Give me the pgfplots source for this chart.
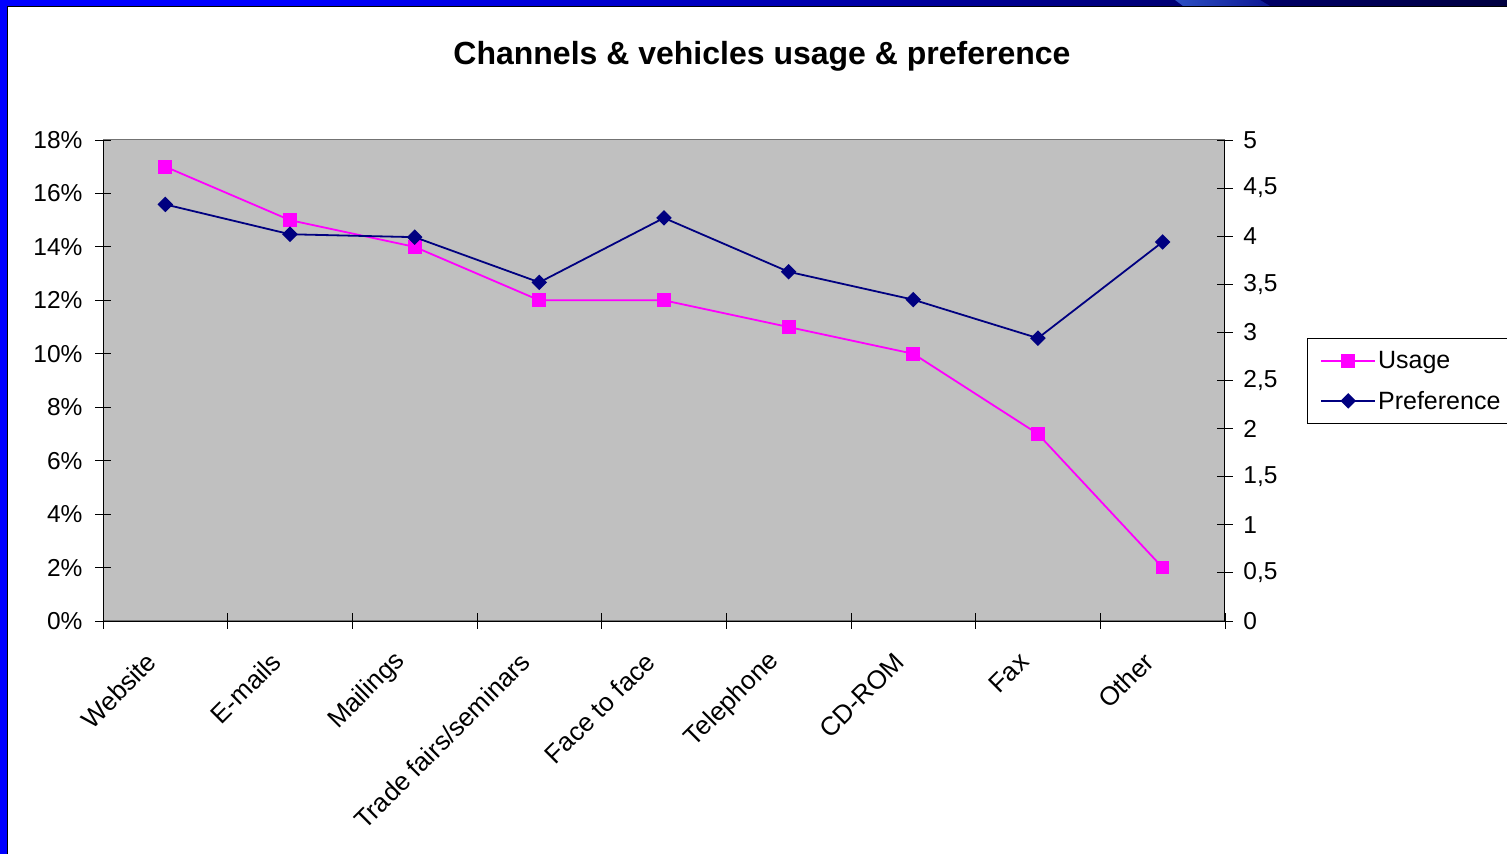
\documentclass[border=0pt]{standalone}
\usepackage{pgfplots}
\pgfplotsset{compat=1.18}
\usepackage{fontspec}
\setmainfont{Liberation Sans}
\definecolor{usagec}{RGB}{255,0,255}
\definecolor{prefc}{RGB}{0,0,128}
\definecolor{plotbg}{RGB}{192,192,192}
\definecolor{barnavy}{RGB}{0,0,128}
\definecolor{bardark}{RGB}{0,0,64}
\definecolor{streak}{RGB}{45,80,195}

\pgfplotstableread{
x usage pref
1 17 4.33
2 15 4.02
3 14 3.99
4 12 3.52
5 12 4.19
6 11 3.63
7 10 3.34
8 7 2.94
9 2 3.94
}\chdata

\begin{document}
\begin{tikzpicture}[x=1bp,y=1bp]
\useasboundingbox (0,0) rectangle (1507,854);
\fill[white] (0,0) rectangle (1507,854);
% slide frame
\fill[blue] (0,0) rectangle (7,854);
\fill[blue] (0,848) rectangle (300,854);
\shade[left color=blue, right color=barnavy] (300,848) rectangle (1100,854);
\shade[left color=barnavy, right color=bardark] (1100,848) rectangle (1507,854);
\shade[left color=streak, right color=barnavy!70!streak] (1175,854) -- (1260,854) -- (1270,848) -- (1183,848) -- cycle;
\draw[black, line width=1.2bp] (7.6,0) -- (7.6,847.4) -- (1507,847.4);

% title
\node[anchor=base, font=\fontsize{32bp}{37bp}\selectfont\bfseries] at (762,789) {Channels \& vehicles usage \& preference};

\pgfplotsset{
  common/.style={
    scale only axis, width=1122bp, height=481bp,
    at={(103bp,233bp)}, anchor=south west,
    xmin=0.5, xmax=9.5,
    tick align=center, major tick length=16bp,
    tick style={black, line width=0.8bp},
    ticklabel style={font=\fontsize{24.5bp}{29bp}\selectfont},
    /pgf/number format/assume math mode=true,
  },
  usagestyle/.style={usagec, line width=1.8bp, mark=square*, mark size=6bp,
    mark options={solid, fill=usagec, draw=usagec}},
  prefstyle/.style={prefc, line width=1.8bp, mark=square*, mark size=4.6bp,
    mark options={solid, rotate=45, fill=prefc, draw=prefc}},
}

\begin{axis}[common,
  axis background/.style={fill=plotbg, draw=gray!90!black, line width=1bp},
  axis x line*=bottom, axis y line*=left,
  axis line style={black, line width=0.9bp, -},
  ymin=0, ymax=18,
  ytick={0,2,...,18},
  yticklabels={0\%,2\%,4\%,6\%,8\%,10\%,12\%,14\%,16\%,18\%},
  yticklabel style={xshift=-9bp},
  xtick={0.5,1.5,...,9.5}, xticklabels={},
  extra x ticks={1,...,9},
  extra x tick labels={Website,E-mails,Mailings,Trade fairs/seminars,Face to face,Telephone,CD-ROM,Fax,Other},
  extra x tick style={major tick length=0pt,
    xticklabel style={font=\fontsize{26bp}{31bp}\selectfont,
      rotate=45, anchor=east, xshift=-32bp, yshift=-16bp}},
]
\addplot[usagestyle] table[x=x, y=usage] {\chdata};
\end{axis}

\begin{axis}[common,
  axis x line=none, axis y line*=right,
  axis line style={black, line width=0.9bp, -},
  ymin=0, ymax=5,
  ytick={0,0.5,...,5},
  yticklabels={0,{0,5},1,{1,5},2,{2,5},3,{3,5},4,{4,5},5},
  yticklabel style={xshift=7bp},
  legend style={at={(1.0731,0.5884)}, anchor=north west,
    draw=black, line width=0.8bp, fill=white,
    font=\fontsize{25bp}{30bp}\selectfont,
    inner xsep=13bp, inner ysep=11bp, row sep=17bp,
    /tikz/every odd column/.append style={column sep=0bp}},
  legend cell align=left,
  legend image code/.code={%
    \draw[mark repeat=2, mark phase=2, #1] plot coordinates {(0bp,0bp) (27bp,0bp) (54bp,0bp)};},
]
\addlegendimage{usagestyle}
\addlegendentry{Usage}
\addplot[prefstyle] table[x=x, y=pref] {\chdata};
\addlegendentry{Preference}
\end{axis}
\end{tikzpicture}
\end{document}
